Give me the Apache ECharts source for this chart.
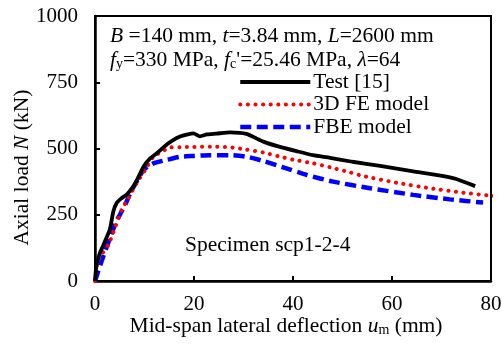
<!DOCTYPE html>
<html>
<head>
<meta charset="utf-8">
<script src="https://cdn.jsdelivr.net/npm/echarts@6/dist/echarts.min.js"></script>
<style>
html,body{margin:0;padding:0;background:#fff;}
#chart{width:502px;height:345px;}
</style>
</head>
<body>
<div id="chart"></div>
<script>
// Data (x: mid-span lateral deflection in mm, y: axial load in kN)
var testData = [[0,0],[0.3,60],[1,106],[1.7,136],[3,195],[3.7,262],[4.4,295],[5.2,310],[6.5,328],[7.7,356],[8.4,378],[9.8,431],[11,460],[12.5,482],[14.5,515],[15.8,532],[17.2,545],[18.5,552],[19.9,557],[21.2,546],[22.6,553],[24.5,556],[27.3,561],[30.6,555],[34,526],[37,508],[40.7,490],[44,475],[47.5,465],[52,450],[57.6,434],[64.3,414],[70.4,396],[73,385],[76.8,358]];
var feData = [[0,0],[0.2,34],[0.4,60],[1,92],[2.7,136],[4,199],[5.4,268],[6.7,312],[8.4,369],[10,415],[11.8,469],[13.5,488],[15.2,504],[17.2,505],[20,506],[23.9,507],[27,505],[30.6,496],[34,485],[37.4,469],[40,458],[44.1,444],[47.5,429],[51.5,410],[54.2,396],[60.9,371],[67.7,350],[74.4,333],[80.5,321],[82.2,317]];
var fbeData = [[0,0],[1.3,73],[3,161],[4.4,230],[5,249],[6.4,300],[7.1,331],[8.4,375],[9.8,419],[11.8,444],[14.5,457],[17.2,469],[20,472],[23,475],[27.3,475],[30.6,469],[34,453],[37.7,431],[42.8,400],[48.1,375],[55.6,350],[64.3,325],[71.7,308],[78.4,296]];
var seriesNames = ['Test [15]', '3D FE model', 'FBE model'];
var xTicks = {min: 0, max: 80, interval: 20};
var yTicks = {min: 0, max: 1000, interval: 250};
var annotLine1 = '{i|B} =140 mm, {i|t}=3.84 mm, {i|L}=2600 mm';
var annotLine2 = '{i|f}{sub|y}=330 MPa, {i|f}{sub|c}\'=25.46 MPa, {i|λ}=64';
var specimenLabel = 'Specimen scp1-2-4';
var xName = 'Mid-span lateral deflection {i|u}{sub|m} (mm)';
var yName = 'Axial load {i|N} (kN)';

var FONT = '"Liberation Serif", "Times New Roman", serif';
var FS = 21.5;
var richStyles = {
  i: {fontStyle: 'italic', fontFamily: FONT, fontSize: FS, color: '#000', lineHeight: 22},
  sub: {fontFamily: FONT, fontSize: 14, color: '#000', lineHeight: 9, verticalAlign: 'bottom'}
};
var testStyle = {color: '#000', width: 3.8};
var feStyle = {color: '#ff0000', width: 4, type: [0.1, 7.5], cap: 'round'};
var fbeStyle = {color: '#0000ff', width: 4.5, type: [11, 5.5]};

var chart = echarts.init(document.getElementById('chart'), null, {renderer: 'canvas'});
chart.setOption({
  animation: false,
  backgroundColor: '#fff',
  textStyle: {fontFamily: FONT},
  grid: {left: 95, right: 11, top: 16, bottom: 64, containLabel: false, outerBoundsMode: 'none',
         show: true, borderColor: '#000', borderWidth: 2, backgroundColor: 'transparent'},
  xAxis: {
    type: 'value', min: xTicks.min, max: xTicks.max, interval: xTicks.interval,
    axisLine: {show: true, onZero: false, lineStyle: {color: '#000', width: 2.5}},
    axisTick: {show: true, inside: true, length: 5, lineStyle: {color: '#000', width: 2}},
    axisLabel: {color: '#000', fontSize: 21, fontFamily: FONT, margin: 13, formatter: function (v) { return String(v); }},
    splitLine: {show: false},
    name: xName, nameLocation: 'middle', nameGap: 34, nameMoveOverlap: false,
    nameTextStyle: {color: '#000', fontSize: FS, fontFamily: FONT, lineHeight: 22, padding: [0, 14, 0, 0], rich: richStyles}
  },
  yAxis: {
    type: 'value', min: yTicks.min, max: yTicks.max, interval: yTicks.interval,
    axisLine: {show: true, onZero: false, lineStyle: {color: '#000', width: 2.5}},
    axisTick: {show: true, inside: true, length: 5, lineStyle: {color: '#000', width: 2}},
    axisLabel: {color: '#000', fontSize: 21, fontFamily: FONT, margin: 17, formatter: function (v) { return String(v); }},
    splitLine: {show: false},
    name: yName, nameLocation: 'middle', nameGap: 62, nameRotate: 90, nameMoveOverlap: false,
    nameTextStyle: {color: '#000', fontSize: FS, fontFamily: FONT, lineHeight: 22, padding: [0, 38, 0, 0], rich: richStyles}
  },
  legend: {
    orient: 'vertical', left: 233, top: 66, itemWidth: 70, itemHeight: 14, itemGap: 0.5,
    itemStyle: {opacity: 0},
    textStyle: {color: '#000', fontSize: FS, fontFamily: FONT, lineHeight: 21, padding: [0,0,0,-2]},
    data: [
      {name: seriesNames[0], lineStyle: testStyle},
      {name: seriesNames[1], lineStyle: feStyle},
      {name: seriesNames[2], lineStyle: fbeStyle}
    ]
  },
  series: [
    {name: seriesNames[0], type: 'line', data: testData, symbol: 'none', smooth: 0.2, clip: false,
     lineStyle: testStyle, itemStyle: {color: '#000'}, z: 3},
    {name: seriesNames[1], type: 'line', data: feData, symbol: 'none', smooth: 0.2, clip: false,
     lineStyle: feStyle, itemStyle: {color: '#ff0000'}, z: 2},
    {name: seriesNames[2], type: 'line', data: fbeData, symbol: 'none', smooth: 0.2, clip: false,
     lineStyle: fbeStyle, itemStyle: {color: '#0000ff'}, z: 1}
  ],
  graphic: [
    {type: 'text', left: 110, top: 25, style: {text: annotLine1, fill: '#000', font: FS + 'px ' + FONT, lineHeight: 22, rich: richStyles}},
    {type: 'text', left: 110, top: 49, style: {text: annotLine2, fill: '#000', font: FS + 'px ' + FONT, lineHeight: 22, rich: richStyles}},
    {type: 'text', left: 185, top: 234, style: {text: specimenLabel, fill: '#000', font: FS + 'px ' + FONT, lineHeight: 22}}
  ]
});
</script>
</body>
</html>
